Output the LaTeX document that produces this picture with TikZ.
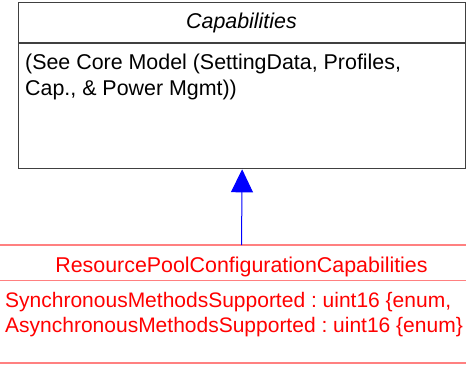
\documentclass[tikz,border=0pt]{standalone}
\usepackage{fontspec}
\setmainfont{Liberation Sans}
\usetikzlibrary{arrows.meta}
\definecolor{boxline}{HTML}{404040}
\definecolor{pinkline}{HTML}{FF8080}
\definecolor{redtext}{HTML}{FF0000}
\frenchspacing
\tikzset{
  txt/.style={inner sep=0pt, font=\fontsize{21.4}{27}\selectfont},
  attr/.style={inner sep=0pt, font=\fontsize{21}{26}\selectfont, text=redtext, anchor=base west},
  classbox/.style={draw=boxline, line width=1.3pt},
  redline/.style={draw=pinkline, line width=1.8pt},
  inherit/.style={draw=blue, line width=1pt, -{Triangle[width=22pt,length=23pt,fill=blue]}},
}
\begin{document}
\begin{tikzpicture}[x=1pt,y=-1pt]
\useasboundingbox (0,0) rectangle (466,365);
% Capabilities class
\node[classbox, minimum width=447pt, minimum height=166pt, anchor=north west, inner sep=0pt] (cap) at (18,2) {};
\coordinate (capsepL) at (18,43);
\coordinate (capsepR) at (465,43);
\draw[classbox] (capsepL) -- (capsepR);
\node[txt, anchor=base, font=\fontsize{21.4}{27}\selectfont\itshape] (captitle) at (241.5,28) {Capabilities};
\node[txt, anchor=base west] (capl1) at (25,69) {(See Core Model (SettingData, Profiles,};
\node[txt, anchor=base west] (capl2) at (25,95) {Cap., \& Power Mgmt))};
% ResourcePoolConfigurationCapabilities class
\coordinate (rpTL) at (0,245);
\coordinate (rpTR) at (466,245);
\coordinate (rpML) at (0,280.5);
\coordinate (rpMR) at (466,280.5);
\coordinate (rpBL) at (0,363);
\coordinate (rpBR) at (466,363);
\draw[redline] (rpTL) -- (rpTR);
\draw[redline] (rpML) -- (rpMR);
\draw[redline] (rpBL) -- (rpBR);
\coordinate (rptop) at (241.5,245);
\node[txt, anchor=base, text=redtext] (rptitle) at (241.5,272) {ResourcePoolConfigurationCapabilities};
\node[attr] (rpl1) at (5,307) {SynchronousMethodsSupported : uint16 \{enum,};
\node[attr] (rpl2) at (5,332) {AsynchronousMethodsSupported : uint16 \{enum\}};
% inheritance arrow
\draw[inherit] (rptop) -- (cap.south);
\end{tikzpicture}
\end{document}
